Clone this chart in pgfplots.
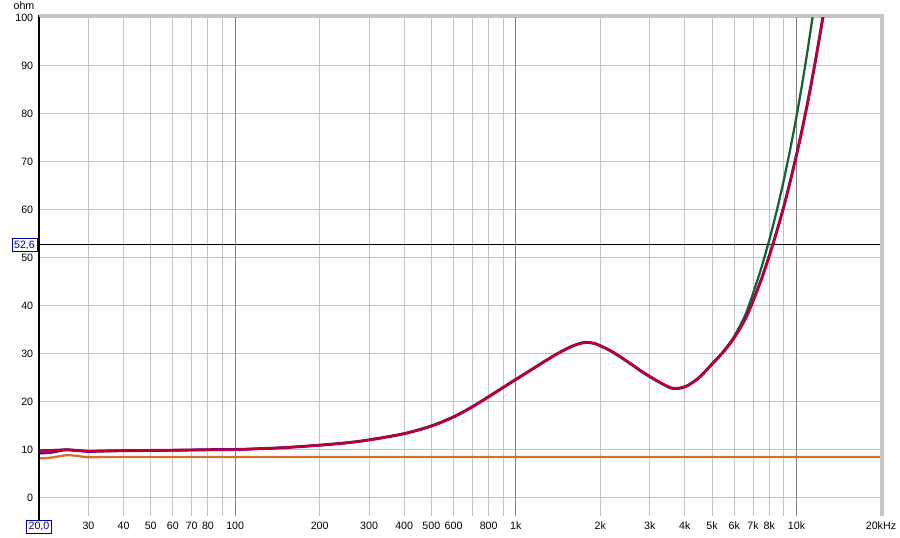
\documentclass[border=0pt]{standalone}
\usepackage{pgfplots}
\pgfplotsset{compat=1.18}
\usepackage{fontspec}
\setmainfont{Liberation Sans}
\definecolor{cRed}{RGB}{190,0,45}
\definecolor{cPurple}{RGB}{125,0,130}
\definecolor{cGreen}{RGB}{20,100,50}
\definecolor{cOrange}{RGB}{212,112,45}
\definecolor{cBlue}{RGB}{0,0,150}
\definecolor{gridc}{RGB}{195,195,195}
\definecolor{gridd}{RGB}{128,128,128}
\newcommand{\bx}[1]{{\setlength{\fboxsep}{1.3pt}\setlength{\fboxrule}{0.6pt}\fcolorbox{cBlue}{white}{\textcolor{cBlue}{#1}}}}
\begin{document}
\fontsize{8}{9.5}\selectfont
\begin{tikzpicture}
\useasboundingbox (0pt,0pt) rectangle (675pt,403.5pt);
\begin{axis}[
 at={(29.25pt,16.5pt)}, anchor=south west,
 scale only axis, width=631.5pt, height=375pt,
 xmode=log, xmin=20, xmax=20000, ymin=-3.85, ymax=100.3,
 axis line style={draw=none},
 xtick={20,30,40,50,60,70,80,200,300,400,500,600,800,2000,3000,4000,5000,6000,7000,8000,20000},
 xticklabels={{\bx{20,0}},30,40,50,60,70,80,200,300,400,500,600,800,2k,3k,4k,5k,6k,7k,8k,20kHz},
 extra x ticks={100,1000,10000}, extra x tick labels={100,1k,10k},
 extra x tick style={grid=major, major grid style={gridd, line width=0.75pt}},
 minor xtick={90,700,900,9000},
 xmajorgrids, xminorgrids, ymajorgrids,
 major grid style={gridc, line width=0.75pt},
 minor grid style={gridc, line width=0.75pt},
 ytick={0,10,20,30,40,50,60,70,80,90,100},
 yticklabels={0,10,20,30,40,50,60,70,80,90,100},
 extra y ticks={52.6}, extra y tick labels={{\bx{52,6}}},
 extra y tick style={grid=major, major grid style={black, line width=0.75pt}, yticklabel style={xshift=3.2pt}},
 major tick length=0pt, minor tick length=0pt,
 xticklabel style={anchor=base, inner sep=0pt, yshift=-10.5pt},
 yticklabel style={anchor=east, inner sep=0pt, xshift=-4.2pt},
]
% orange
\addplot[cOrange, line width=1.7pt, smooth] coordinates {
(20,8.15) (22,8.3) (25,8.8) (27,8.7) (30,8.4) (35,8.45) (40,8.45) (60,8.45) (100,8.45) (300,8.45) (1000,8.45) (3000,8.45) (10000,8.45) (20000,8.45)};
% green
\addplot[cGreen, line width=1.7pt, smooth] coordinates {
(20,9.8) (22,9.85) (25,9.95) (28,9.75) (30,9.65) (35,9.7) (40,9.75) (50,9.8) (60,9.85) (70,9.9) (80,9.95)
(100,10.0) (120,10.15) (150,10.4) (200,10.9) (250,11.4) (300,12.0) (400,13.3) (500,14.9) (600,16.8)
(700,18.9) (800,21.0) (900,22.9) (1000,24.6) (1100,26.1) (1200,27.5) (1400,29.9) (1600,31.6) (1760,32.3)
(1900,32.1) (2000,31.6) (2200,30.4) (2500,28.3) (2800,26.3) (3000,25.2) (3300,23.8) (3580,22.8) (3800,22.75)
(4060,23.2) (4500,25.0) (5000,27.8) (5500,30.5) (6000,33.6) (6500,37.4) (6766,40) (7000,42.5) (7500,47.9)
(8000,53.7) (8500,59.7) (9000,66.0) (9500,72.6) (10000,79.4) (10500,86.5) (11000,93.9) (11500,101.5) (12000,109.4)};
% purple
\addplot[cPurple, line width=2.2pt, smooth] coordinates {
(20,9.25) (22,9.4) (24,9.8) (25,9.95) (28,9.75) (30,9.6) (35,9.7) (40,9.75) (50,9.8) (60,9.85) (70,9.9) (80,9.95)
(100,10.0) (120,10.15) (150,10.4) (200,10.9) (250,11.4) (300,12.0) (400,13.3) (500,14.9) (600,16.8)
(700,18.9) (800,21.0) (900,22.9) (1000,24.6) (1100,26.1) (1200,27.5) (1400,29.9) (1600,31.6) (1760,32.3)
(1900,32.1) (2000,31.6) (2200,30.4) (2500,28.3) (2800,26.3) (3000,25.2) (3300,23.8) (3580,22.8) (3800,22.75)
(4060,23.2) (4500,25.0) (5000,27.8) (5500,30.4) (6000,33.3) (6500,36.7) (6900,40) (7500,45.5) (8000,50.4)
(8500,55.4) (9000,60.5) (9500,65.9) (10000,71.4) (10500,77.0) (11000,82.8) (11500,88.8) (12000,94.9) (12500,101.1) (13000,107.5)};
% red
\addplot[cRed, line width=1.6pt, smooth] coordinates {
(20,9.8) (22,9.85) (25,9.95) (28,9.75) (30,9.65) (35,9.7) (40,9.75) (50,9.8) (60,9.85) (70,9.9) (80,9.95)
(100,10.0) (120,10.15) (150,10.4) (200,10.9) (250,11.4) (300,12.0) (400,13.3) (500,14.9) (600,16.8)
(700,18.9) (800,21.0) (900,22.9) (1000,24.6) (1100,26.1) (1200,27.5) (1400,29.9) (1600,31.6) (1760,32.3)
(1900,32.1) (2000,31.6) (2200,30.4) (2500,28.3) (2800,26.3) (3000,25.2) (3300,23.8) (3580,22.8) (3800,22.75)
(4060,23.2) (4500,25.0) (5000,27.8) (5500,30.4) (6000,33.3) (6500,36.7) (6900,40) (7500,45.5) (8000,50.4)
(8500,55.4) (9000,60.5) (9500,65.9) (10000,71.4) (10500,77.0) (11000,82.8) (11500,88.8) (12000,94.9) (12500,101.1) (13000,107.5)};
\end{axis}
\draw[black, line width=1.5pt] (29.25pt,13.5pt) -- (29.25pt,392.25pt);
\draw[gray!45, line width=2.5pt] (29.25pt,391.875pt) -- (661.5pt,391.875pt) -- (661.5pt,16.5pt);
\node[anchor=base, inner sep=0pt] at (18pt,396pt) {ohm};
\end{tikzpicture}
\end{document}
